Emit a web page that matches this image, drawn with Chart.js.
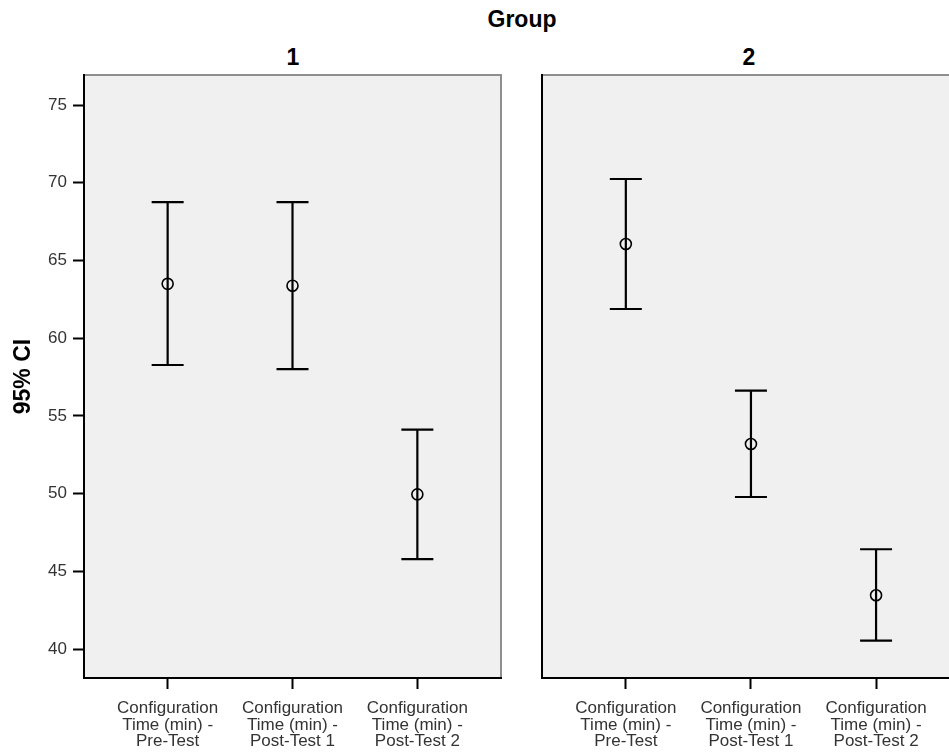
<!DOCTYPE html>
<html>
<head>
<meta charset="utf-8">
<script src="https://cdn.jsdelivr.net/npm/chart.js@4/dist/chart.umd.min.js"></script>
<style>
  html, body { margin: 0; padding: 0; background: #fff; overflow: hidden; }
  body { width: 949px; height: 753px; position: relative; font-family: 'Liberation Sans', Arial, sans-serif; }
  .box { position: absolute; top: 0; height: 753px; }
  .label { position: absolute; font-weight: bold; font-size: 23px; line-height: 24px; color: #000; text-align: center; width: 120px; }
</style>
</head>
<body>
<div class="label" style="left:462px; top:7px;">Group</div>
<div class="label" style="left:233px; top:45px;">1</div>
<div class="label" style="left:689px; top:45px;">2</div>
<div class="box" style="left:0; width:510px;"><canvas id="panel1"></canvas></div>
<div class="box" style="left:530px; width:437px;"><canvas id="panel2"></canvas></div>
<script>
// categories (x tick labels, split into lines)
const categories = [
  ['Configuration', 'Time (min) -', 'Pre-Test'],
  ['Configuration', 'Time (min) -', 'Post-Test 1'],
  ['Configuration', 'Time (min) -', 'Post-Test 2']
];

// Group 1: mean and 95% CI
const group1Mean  = [63.50, 63.38, 49.96];
const group1Lower = [58.28, 58.02, 45.80];
const group1Upper = [68.76, 68.76, 54.12];

// Group 2: mean and 95% CI
const group2Mean  = [66.06, 53.20, 43.47];
const group2Lower = [61.88, 49.79, 40.55];
const group2Upper = [70.24, 56.63, 46.43];

// y axis ticks
const yTicks = [40, 45, 50, 55, 60, 65, 70, 75];

const tickFont = { family: "'Liberation Sans', Arial, sans-serif", size: 17, lineHeight: 0.98 };

// grey panel background + top/right frame
const panelFrame = {
  id: 'panelFrame',
  beforeDraw(chart) {
    const { ctx, chartArea: a } = chart;
    ctx.save();
    ctx.fillStyle = '#f0f0f0';
    ctx.fillRect(a.left, a.top, a.width, a.height);
    ctx.strokeStyle = '#8e8e8e';
    ctx.lineWidth = 2;
    ctx.beginPath();
    ctx.moveTo(a.left, a.top);
    ctx.lineTo(a.right, a.top);
    ctx.lineTo(a.right, a.bottom);
    ctx.stroke();
    ctx.restore();
  }
};

// whiskers with caps
const errorBars = {
  id: 'errorBars',
  beforeDatasetsDraw(chart, args, opts) {
    const { ctx, scales: { x, y } } = chart;
    ctx.save();
    ctx.strokeStyle = '#000';
    ctx.lineWidth = 2.2;
    opts.lower.forEach((lo, i) => {
      const px = x.getPixelForValue(i);
      const yLo = y.getPixelForValue(lo);
      const yHi = y.getPixelForValue(opts.upper[i]);
      ctx.beginPath();
      ctx.moveTo(px, yLo); ctx.lineTo(px, yHi);
      ctx.moveTo(px - 16, yLo); ctx.lineTo(px + 16, yLo);
      ctx.moveTo(px - 16, yHi); ctx.lineTo(px + 16, yHi);
      ctx.stroke();
    });
    ctx.restore();
  }
};

function makePanel(id, means, lower, upper, showY, padRight, yWidth) {
  new Chart(document.getElementById(id), {
    type: 'scatter',
    data: {
      datasets: [{
        data: means.map((m, i) => ({ x: i, y: m })),
        pointRadius: 5.5,
        pointBorderWidth: 1.6,
        pointBorderColor: '#000',
        pointBackgroundColor: 'rgba(0,0,0,0)',
        pointHoverRadius: 5.5
      }]
    },
    plugins: [panelFrame, errorBars],
    options: {
      responsive: true,
      maintainAspectRatio: false,
      animation: false,
      layout: { padding: { top: 75, right: padRight, bottom: 0, left: 0 } },
      plugins: {
        legend: { display: false },
        tooltip: { enabled: false },
        errorBars: { lower: lower, upper: upper }
      },
      scales: {
        x: {
          type: 'linear',
          min: -0.67,
          max: 2.67,
          afterBuildTicks: s => { s.ticks = categories.map((c, i) => ({ value: i })); },
          afterFit: s => { s.height = 75; },
          ticks: {
            color: '#333',
            font: tickFont,
            padding: 11,
            maxRotation: 0,
            autoSkip: false,
            callback: v => categories[v]
          },
          grid: { drawOnChartArea: false, drawTicks: true, tickLength: 11, tickColor: '#000', tickWidth: 2 },
          border: { display: true, color: '#000', width: 2 }
        },
        y: {
          min: 38.15,
          max: 76.93,
          afterBuildTicks: s => { s.ticks = yTicks.map(v => ({ value: v })); },
          afterFit: s => { s.width = yWidth; },
          ticks: {
            display: showY,
            color: '#333',
            font: tickFont,
            padding: 6
          },
          grid: { drawOnChartArea: false, drawTicks: showY, tickLength: 11, tickColor: '#000', tickWidth: 2 },
          border: { display: true, color: '#000', width: 2 },
          title: {
            display: showY,
            text: '95% CI',
            color: '#000',
            font: { family: "'Liberation Sans', Arial, sans-serif", size: 23, weight: 'bold' },
            padding: { top: 10, bottom: 0 }
          }
        }
      }
    }
  });
}

makePanel('panel1', group1Mean, group1Lower, group1Upper, true, 9, 84);
makePanel('panel2', group2Mean, group2Lower, group2Upper, false, 0, 12);
</script>
</body>
</html>
